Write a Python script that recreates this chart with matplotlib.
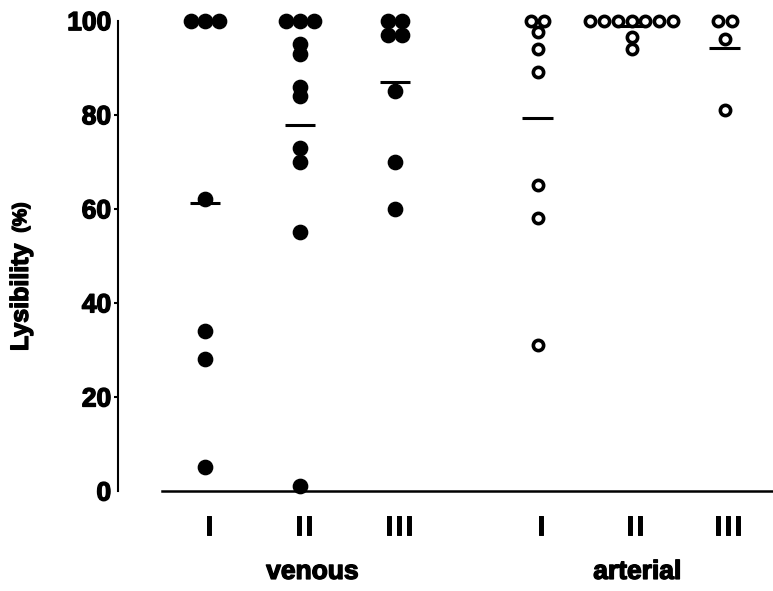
import numpy as np
import matplotlib.pyplot as plt
import matplotlib.patheffects as pe

# lysibility (%) per clot
venous_I = [100, 100, 100, 62, 34, 28, 5]
venous_II = [100, 100, 100, 95, 93, 86, 84, 73, 70, 55, 1]
venous_III = [100, 100, 97, 97, 85, 70, 60]
arterial_I = [100, 100, 97.5, 94, 89, 65, 58, 31]
arterial_II = [100, 100, 100, 100, 100, 100, 100, 96.5, 94]
arterial_III = [100, 100, 96, 81]

venous = [venous_I, venous_II, venous_III]
arterial = [arterial_I, arterial_II, arterial_III]
roman = ['I', 'II', 'III']

pos_venous = [1, 2, 3]
pos_arterial = [4.5, 5.49, 6.47]
step = 0.145  # horizontal spacing of tied values

plt.rcParams['font.family'] = ['Liberation Sans', 'DejaVu Sans']
plt.rcParams['font.weight'] = 'bold'
heavy = [pe.withStroke(linewidth=1.0, foreground='black')]

fig = plt.figure(figsize=(7.73, 5.91), dpi=100)
ax = fig.add_axes([0.1527, 0.1692, 0.8473, 0.7958])


def spread(vals):
    vals = np.array(vals, dtype=float)
    off = np.zeros(len(vals))
    for v in np.unique(vals):
        idx = np.where(vals == v)[0]
        n = len(idx)
        off[idx] = (np.arange(n) - (n - 1) / 2) * step
    return off, vals


for p, vals in zip(pos_venous, venous):
    off, y = spread(vals)
    ax.plot(p + off, y, 'o', color='black', markersize=10.3, clip_on=False, zorder=3)
    ax.hlines(np.mean(vals), p - 0.16, p + 0.16, color='black', lw=2.2, zorder=4)

for p, vals in zip(pos_arterial, arterial):
    off, y = spread(vals)
    ax.plot(p + off, y, 'o', markerfacecolor='white', markeredgecolor='black',
            markersize=7.4, markeredgewidth=2.6, clip_on=False, zorder=3)
    ax.hlines(np.mean(vals), p - 0.16, p + 0.16, color='black', lw=2.2, zorder=4)

ax.set_xlim(0.084, 6.979)
ax.set_ylim(0, 100)

for s in ['top', 'right']:
    ax.spines[s].set_visible(False)
ax.spines['left'].set_linewidth(1.5)
ax.spines['bottom'].set_linewidth(1.8)
ax.spines['bottom'].set_bounds(0.55, 6.979)

ax.set_yticks([0, 20, 40, 60, 80, 100])
ax.tick_params(axis='y', direction='out', length=3, width=1.5, pad=2, labelsize=19)
ax.set_yticks([0, 100], minor=True)
ax.tick_params(axis='y', which='minor', direction='in', length=3, width=1.5)
for t in [ax.yaxis.get_major_ticks()[0], ax.yaxis.get_major_ticks()[-1]]:
    t.tick1line.set_visible(False)
for lab in ax.get_yticklabels():
    lab.set_fontweight('bold')
    lab.set_path_effects(heavy)

ax.set_xticks([])
tr = ax.get_xaxis_transform()
for p, r in zip(pos_venous + pos_arterial, roman + roman):
    ax.text(p + 0.04, -0.079, '\u200a'.join(r), transform=tr, ha='center', va='center',
            fontsize=20, fontweight='bold',
            path_effects=[pe.withStroke(linewidth=0.7, foreground='black')])

ax.text(2.13, -0.172, 'venous', transform=tr, ha='center', va='center',
        fontsize=19, fontweight='bold', path_effects=heavy)
ax.text(5.55, -0.172, 'arterial', transform=tr, ha='center', va='center',
        fontsize=19, fontweight='bold', path_effects=heavy)

fig.text(0.027, 0.4966, 'Lysibility', rotation=90, ha='center', va='center',
         fontsize=18, fontweight='bold', path_effects=heavy)
fig.text(0.028, 0.632, '(%)', rotation=90, ha='center', va='center',
         fontsize=14, fontweight='bold', path_effects=heavy)

fig.savefig('out.png', dpi=100)
